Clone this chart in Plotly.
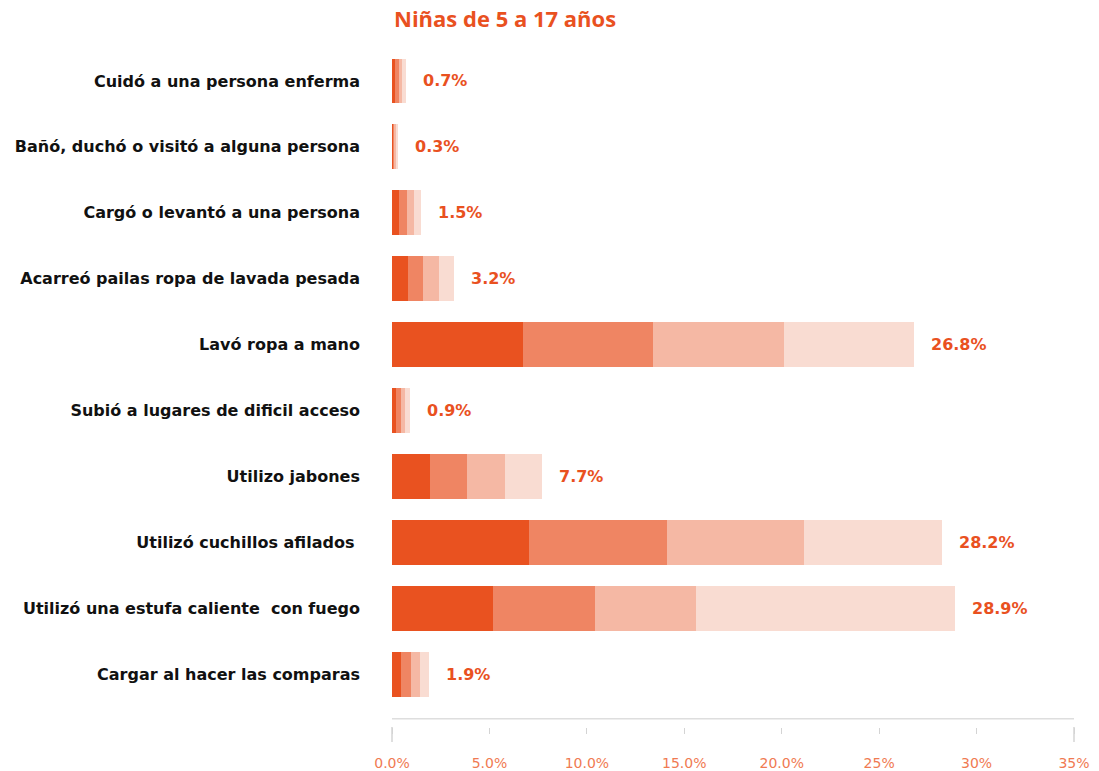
import plotly.graph_objects as go

# Activities, listed top to bottom
actividades = [
    "Cuidó a una persona enferma",
    "Bañó, duchó o visitó a alguna persona",
    "Cargó o levantó a una persona",
    "Acarreó pailas ropa de lavada pesada",
    "Lavó ropa a mano",
    "Subió a lugares de dificil acceso",
    "Utilizo jabones",
    "Utilizó cuchillos afilados ",
    "Utilizó una estufa caliente  con fuego",
    "Cargar al hacer las comparas",
]

# Total share per activity (%)
totales = [0.7, 0.3, 1.5, 3.2, 26.8, 0.9, 7.7, 28.2, 28.9, 1.9]

# Stacked parts of each bar (%), darkest to lightest
parte_1 = [0.175, 0.075, 0.375, 0.8, 6.7, 0.225, 1.925, 7.05, 5.2, 0.475]
parte_2 = [0.175, 0.075, 0.375, 0.8, 6.7, 0.225, 1.925, 7.05, 5.2, 0.475]
parte_3 = [0.175, 0.075, 0.375, 0.8, 6.7, 0.225, 1.925, 7.05, 5.2, 0.475]
parte_4 = [0.175, 0.075, 0.375, 0.8, 6.7, 0.225, 1.925, 7.05, 13.3, 0.475]

tick_vals = [0, 5, 10, 15, 20, 25, 30, 35]
tick_text = ["0.0%", "5.0%", "10.0%", "15.0%", "20.0%", "25%", "30%", "35%"]

ORANGE = "#E9511F"
colores = ["#E95220", "#EF8563", "#F5B8A4", "#F9DCD2"]
LABEL_FONT = "DejaVu Sans"
TITLE_FONT = "Open Sans"

fig = go.Figure()
for nombre, valores, color in zip(["Parte 1", "Parte 2", "Parte 3", "Parte 4"],
                                  [parte_1, parte_2, parte_3, parte_4], colores):
    fig.add_trace(go.Bar(
        y=actividades, x=valores, name=nombre, orientation="h",
        marker=dict(color=color, line=dict(width=0)),
        hoverinfo="x+y",
    ))

# Percentage label to the right of each bar
for act, tot in zip(actividades, totales):
    fig.add_annotation(
        x=tot, y=act, xref="x", yref="y", text=f"{tot}%",
        showarrow=False, xanchor="left", xshift=15,
        font=dict(family=LABEL_FONT, size=16, color=ORANGE, weight="bold"),
    )

# Title
fig.add_annotation(
    x=0, y=1.0, xref="paper", yref="paper", yanchor="bottom", xanchor="left",
    yshift=13, text="Niñas de 5 a 17 años", showarrow=False,
    font=dict(family=TITLE_FONT, size=22, color=ORANGE, weight="bold"),
)

# Baseline floating above the tick marks
fig.add_shape(type="line", xref="paper", yref="paper", x0=0, x1=1,
              y0=0.012, y1=0.012, line=dict(color="#DEDEDE", width=1.5))

# Longer tick marks at both ends of the axis
for xp in (0, 1):
    fig.add_shape(type="line", xref="paper", yref="paper", x0=xp, x1=xp,
                  y0=0, y1=-0.022, line=dict(color="#D4D4D4", width=1.5))

fig.update_layout(
    barmode="stack",
    bargap=0.32,
    width=1099, height=771,
    margin=dict(l=392, r=25, t=48, b=44, autoexpand=False),
    paper_bgcolor="white", plot_bgcolor="white",
    showlegend=False,
    xaxis=dict(
        range=[0, 35], tickvals=tick_vals, ticktext=tick_text,
        showgrid=False, zeroline=False, showline=False, automargin=False,
        ticks="outside", ticklen=6, tickcolor="#D4D4D4", tickwidth=1,
        ticklabelstandoff=17,
        tickfont=dict(family=LABEL_FONT, size=14, color="#F07A52"),
    ),
    yaxis=dict(
        categoryorder="array", categoryarray=actividades,
        range=[9.8, -0.5], showgrid=False, zeroline=False, showline=False,
        automargin=False, ticks="", ticklabelstandoff=31,
        tickfont=dict(family=LABEL_FONT, size=16, color="#111111", weight="bold"),
    ),
)

fig.write_html("out.html")
